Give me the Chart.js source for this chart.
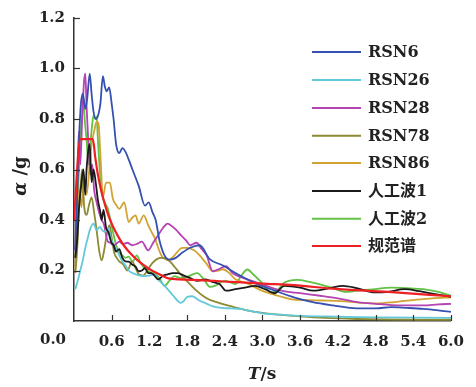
<!DOCTYPE html>
<html><head><meta charset="utf-8">
<script src="https://cdn.jsdelivr.net/npm/chart.js@4.4.1/dist/chart.umd.min.js"></script>
<style>html,body{margin:0;padding:0;background:#fff}#wrap{width:476px;height:387px;position:relative}</style>
</head><body><div id="wrap"><canvas id="c" width="476" height="387"></canvas></div>
<script>
// ---- data ----
const seriesNames = ['RSN6','RSN26','RSN28','RSN78','RSN86','人工波1','人工波2','规范谱'];
const seriesColors = ['#3550b0','#62c8da','#b443b4','#8c8a32','#d2a232','#1a1a1a','#62c244','#ee2024'];
const xTicks = [0.6,1.2,1.8,2.4,3.0,3.6,4.2,4.8,5.4,6.0];
const yTicks = [0.2,0.4,0.6,0.8,1.0,1.2];

const rsn6T = [0.02,0.05,0.08,0.11,0.14,0.18,0.21,0.25,0.28,0.31,0.35,0.39,0.42,0.46,0.49,0.52,0.56,0.60,0.63,0.67,0.72,0.77,0.82,0.87,0.93,1.03,1.13,1.19,1.25,1.30,1.36,1.44,1.52,1.62,1.72,1.85,2.0,2.16,2.37,2.57,2.88,3.2,3.5,3.8,4.12,4.5,4.8,5.05,5.3,5.56,5.8,6.0];
const rsn6A = [0.28,0.5,0.72,0.86,0.9,0.84,0.88,0.98,0.9,0.83,0.8,0.82,0.86,0.97,0.93,0.91,0.925,0.86,0.8,0.70,0.665,0.685,0.67,0.64,0.60,0.535,0.457,0.47,0.43,0.40,0.32,0.26,0.243,0.25,0.27,0.29,0.30,0.245,0.22,0.19,0.15,0.12,0.094,0.075,0.062,0.05,0.05,0.055,0.052,0.048,0.042,0.036];

const rsn26T = [0.02,0.06,0.10,0.14,0.18,0.22,0.26,0.31,0.36,0.41,0.45,0.49,0.54,0.59,0.63,0.67,0.72,0.77,0.82,0.87,0.93,0.98,1.05,1.13,1.2,1.29,1.34,1.42,1.49,1.58,1.70,1.75,1.80,1.88,2.0,2.1,2.21,2.35,2.5,2.65,2.8,3.0,3.3,3.6,4.0,4.5,5.0,5.5,6.0];
const rsn26A = [0.126,0.16,0.2,0.24,0.29,0.33,0.366,0.386,0.36,0.373,0.36,0.353,0.37,0.327,0.3,0.288,0.26,0.236,0.22,0.2,0.19,0.185,0.18,0.178,0.18,0.185,0.165,0.145,0.126,0.1,0.072,0.08,0.095,0.098,0.08,0.07,0.058,0.052,0.05,0.048,0.04,0.03,0.025,0.02,0.018,0.015,0.014,0.013,0.012];

const rsn28T = [0.02,0.05,0.075,0.1,0.13,0.16,0.18,0.2,0.23,0.26,0.29,0.32,0.36,0.40,0.44,0.48,0.51,0.54,0.58,0.62,0.67,0.72,0.78,0.85,0.925,1.0,1.08,1.18,1.26,1.34,1.42,1.49,1.56,1.63,1.70,1.78,1.85,1.95,2.03,2.11,2.21,2.3,2.42,2.52,2.7,2.99,3.3,3.6,3.92,4.2,4.53,4.8,5.05,5.3,5.56,5.8,6.0];
const rsn28A = [0.28,0.5,0.75,0.62,0.8,0.95,0.98,0.85,0.7,0.58,0.62,0.52,0.47,0.43,0.4,0.38,0.34,0.314,0.31,0.30,0.305,0.314,0.305,0.31,0.30,0.305,0.314,0.28,0.31,0.34,0.37,0.386,0.375,0.36,0.34,0.32,0.30,0.31,0.285,0.26,0.197,0.205,0.217,0.19,0.17,0.146,0.12,0.11,0.10,0.09,0.074,0.068,0.063,0.062,0.062,0.066,0.068];

const rsn78T = [0.02,0.05,0.08,0.11,0.13,0.16,0.2,0.24,0.28,0.32,0.36,0.40,0.44,0.48,0.52,0.565,0.6,0.64,0.68,0.72,0.78,0.85,0.925,0.98,1.03,1.1,1.18,1.25,1.32,1.39,1.46,1.53,1.6,1.68,1.75,1.85,1.95,2.05,2.15,2.27,2.4,2.55,2.75,3.0,3.3,3.6,4.0,4.5,5.0,5.5,6.0];
const rsn78A = [0.19,0.28,0.45,0.55,0.6,0.46,0.42,0.46,0.49,0.43,0.36,0.28,0.24,0.28,0.34,0.38,0.33,0.27,0.25,0.236,0.225,0.2,0.236,0.21,0.185,0.18,0.205,0.23,0.245,0.25,0.248,0.235,0.215,0.19,0.17,0.145,0.12,0.1,0.085,0.075,0.065,0.055,0.042,0.032,0.024,0.018,0.012,0.008,0.006,0.005,0.005];

const rsn86T = [0.02,0.05,0.08,0.12,0.15,0.2,0.25,0.28,0.32,0.36,0.39,0.42,0.46,0.51,0.57,0.62,0.67,0.72,0.80,0.87,0.93,0.98,1.03,1.11,1.18,1.24,1.29,1.34,1.39,1.45,1.5,1.58,1.65,1.72,1.8,1.91,2.0,2.1,2.21,2.3,2.37,2.47,2.57,2.75,2.99,3.25,3.5,3.75,4.0,4.3,4.6,4.84,5.1,5.4,5.7,6.0];
const rsn86A = [0.2,0.45,0.52,0.45,0.55,0.5,0.62,0.70,0.75,0.79,0.78,0.66,0.49,0.548,0.548,0.483,0.46,0.444,0.47,0.392,0.41,0.418,0.386,0.418,0.38,0.35,0.327,0.29,0.26,0.245,0.24,0.255,0.275,0.29,0.29,0.28,0.26,0.23,0.197,0.2,0.205,0.19,0.165,0.15,0.12,0.1,0.085,0.083,0.081,0.078,0.072,0.07,0.075,0.083,0.09,0.094];

const art1T = [0.02,0.05,0.08,0.12,0.15,0.18,0.2,0.23,0.25,0.28,0.31,0.34,0.38,0.42,0.44,0.47,0.51,0.55,0.59,0.63,0.67,0.72,0.77,0.82,0.87,0.925,0.98,1.03,1.08,1.13,1.18,1.23,1.28,1.34,1.42,1.49,1.57,1.65,1.75,1.85,1.96,2.1,2.2,2.32,2.42,2.57,2.72,2.88,2.95,3.05,3.19,3.35,3.6,3.81,4.07,4.28,4.5,4.79,5.0,5.26,5.5,5.75,6.0];
const art1A = [0.25,0.32,0.45,0.55,0.6,0.5,0.6,0.68,0.7,0.55,0.6,0.56,0.48,0.43,0.40,0.44,0.37,0.35,0.314,0.30,0.275,0.285,0.25,0.236,0.235,0.224,0.215,0.197,0.2,0.21,0.19,0.19,0.18,0.165,0.18,0.185,0.19,0.19,0.18,0.17,0.159,0.165,0.155,0.146,0.12,0.126,0.132,0.139,0.135,0.125,0.11,0.139,0.132,0.12,0.13,0.139,0.13,0.113,0.115,0.126,0.118,0.106,0.096];

const art2T = [0.02,0.05,0.08,0.11,0.13,0.15,0.17,0.2,0.23,0.26,0.29,0.31,0.34,0.36,0.38,0.41,0.45,0.49,0.54,0.58,0.62,0.67,0.72,0.77,0.82,0.87,0.93,1.0,1.06,1.12,1.18,1.24,1.29,1.36,1.44,1.52,1.6,1.7,1.8,1.96,2.08,2.16,2.25,2.35,2.42,2.57,2.65,2.76,2.85,2.99,3.14,3.25,3.35,3.55,3.75,3.9,4.12,4.33,4.5,4.75,5.05,5.3,5.56,5.8,6.0];
const art2A = [0.3,0.45,0.6,0.75,0.82,0.89,0.8,0.717,0.62,0.7,0.78,0.814,0.8,0.81,0.72,0.6,0.5,0.47,0.444,0.4,0.353,0.3,0.27,0.26,0.25,0.255,0.235,0.26,0.23,0.21,0.197,0.19,0.185,0.17,0.139,0.16,0.178,0.17,0.175,0.19,0.16,0.135,0.14,0.155,0.159,0.146,0.175,0.204,0.185,0.152,0.113,0.125,0.152,0.163,0.155,0.146,0.13,0.115,0.12,0.125,0.132,0.13,0.126,0.115,0.10];

const codeT = [0,0.1,0.3,0.34,0.38,0.42,0.46,0.52,0.58,0.65,0.72,0.8,0.9,1.0,1.1,1.2,1.3,1.4,1.5,2.0,2.5,3.0,3.5,4.12,5.0,6.0];
const codeA = [0.40,0.72,0.72,0.645,0.58,0.531,0.49,0.438,0.397,0.359,0.327,0.297,0.267,0.243,0.223,0.206,0.192,0.18,0.169,0.162,0.155,0.148,0.142,0.128,0.115,0.098];

const seriesT = [rsn6T,rsn26T,rsn28T,rsn78T,rsn86T,art1T,art2T,codeT];
const seriesA = [rsn6A,rsn26A,rsn28A,rsn78A,rsn86A,art1A,art2A,codeA];

// ---- chart ----
const SERIF = "'DejaVu Serif', 'Noto Sans CJK SC', serif";
const tickFont = {family: SERIF, size: 15, weight: 'bold'};
const datasets = seriesNames.map((name, i) => ({
  label: name,
  data: seriesT[i].map((t, k) => ({x: t, y: seriesA[i][k]})),
  borderColor: seriesColors[i],
  backgroundColor: seriesColors[i],
  borderWidth: i === 7 ? 2.2 : 1.8,
  pointRadius: 0,
  fill: false,
  cubicInterpolationMode: 'monotone',
  order: i === 7 ? -2 : (i === 5 ? -1 : i)
}));

const deco = {
  id: 'deco',
  afterDraw(chart) {
    const ctx = chart.ctx, xs = chart.scales.x, ys = chart.scales.y, ca = chart.chartArea;
    ctx.save();
    // inward ticks
    ctx.strokeStyle = '#333'; ctx.lineWidth = 1.2;
    xTicks.forEach(v => { const x = Math.round(xs.getPixelForValue(v)) + 0.5;
      ctx.beginPath(); ctx.moveTo(x, ca.bottom); ctx.lineTo(x, ca.bottom - 6); ctx.stroke(); });
    yTicks.forEach(v => { const y = Math.round(ys.getPixelForValue(v)) + 0.5;
      ctx.beginPath(); ctx.moveTo(ca.left, y); ctx.lineTo(ca.left + 6, y); ctx.stroke(); });
    // origin label
    ctx.fillStyle = '#222'; ctx.font = "bold 15px " + SERIF;
    ctx.textAlign = 'center'; ctx.textBaseline = 'middle';
    ctx.fillText('0.0', 53, 340);
    // x title: T/s
    ctx.font = "italic bold 17px " + SERIF;
    const w1 = ctx.measureText('T').width;
    ctx.font = "bold 17px " + SERIF;
    const w2 = ctx.measureText('/s').width;
    let sx = 262 - (w1 + w2) / 2;
    ctx.textAlign = 'left';
    ctx.font = "italic bold 17px " + SERIF; ctx.fillText('T', sx, 375);
    ctx.font = "bold 17px " + SERIF; ctx.fillText('/s', sx + w1, 375);
    // y title: α /g (rotated)
    ctx.save();
    ctx.translate(21, 176); ctx.rotate(-Math.PI / 2);
    ctx.font = "italic bold 18px " + SERIF;
    const a1 = ctx.measureText('α').width;
    ctx.font = "bold 18px " + SERIF;
    const a2 = ctx.measureText(' /g').width;
    let sy = -(a1 + a2) / 2;
    ctx.font = "italic bold 18px " + SERIF; ctx.fillText('α', sy, 0);
    ctx.font = "bold 18px " + SERIF; ctx.fillText(' /g', sy + a1, 0);
    ctx.restore();
    // legend
    const rowY = [52, 80, 108, 135.7, 163, 191, 218.7, 246];
    chart.data.datasets.forEach((ds, i) => {
      const y = rowY[i];
      ctx.strokeStyle = ds.borderColor; ctx.lineWidth = 2;
      ctx.beginPath(); ctx.moveTo(312, y); ctx.lineTo(361, y); ctx.stroke();
      ctx.fillStyle = '#222'; ctx.font = "bold 16px " + SERIF;
      ctx.textAlign = 'left'; ctx.textBaseline = 'middle';
      ctx.fillText(ds.label, 368, y + 1);
    });
    ctx.restore();
  }
};

new Chart(document.getElementById('c'), {
  type: 'line',
  data: {datasets},
  options: {
    responsive: false, animation: false, devicePixelRatio: 1,
    layout: {padding: {top: 13, right: 14, left: 0, bottom: 0}},
    plugins: {legend: {display: false}, tooltip: {enabled: false}},
    scales: {
      x: {
        type: 'linear', min: 0, max: 6,
        afterBuildTicks: s => { s.ticks = xTicks.map(v => ({value: v})); },
        afterFit: s => { s.height = 66; },
        grid: {display: false, drawTicks: false},
        border: {display: true, color: '#333', width: 1.5},
        ticks: {font: tickFont, color: '#222', padding: 12, maxRotation: 0, autoSkip: false,
                callback: v => Number(v).toFixed(1)}
      },
      y: {
        type: 'linear', min: 0, max: 1.2,
        afterBuildTicks: s => { s.ticks = yTicks.map(v => ({value: v})); },
        afterFit: s => { s.width = 74; },
        grid: {display: false, drawTicks: false},
        border: {display: true, color: '#333', width: 1.5},
        ticks: {font: tickFont, color: '#222', padding: 9, autoSkip: false,
                callback: v => Number(v).toFixed(1)}
      }
    }
  },
  plugins: [deco]
});
</script>
</body></html>
